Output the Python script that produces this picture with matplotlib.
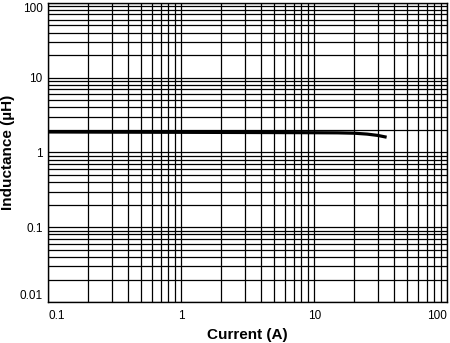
import numpy as np
import matplotlib
matplotlib.use("Agg")
import matplotlib.pyplot as plt
from matplotlib.ticker import FixedLocator, NullFormatter

## Data (current in A, inductance in uH)
current = [0.1, 0.3, 1, 3, 8, 15, 20, 25, 30, 35]
inductance = [1.88, 1.87, 1.86, 1.85, 1.84, 1.83, 1.81, 1.76, 1.69, 1.60]

x_ticks = [0.1, 1, 10, 100]
x_labels = ["0.1", "1", "10", "100"]
y_ticks = [0.01, 0.1, 1, 10, 100]
y_labels = ["0.01", "0.1", "1", "10", "100"]

plt.rcParams['font.family'] = ['Liberation Sans', 'DejaVu Sans']

fig = plt.figure(figsize=(4.5, 3.43), dpi=100)
ax = fig.add_axes([0.107, 0.1195, 0.887, 0.872])
ax.set_xscale('log')
ax.set_yscale('log')
ax.set_xlim(0.1, 100)
ax.set_ylim(0.01, 100)

## grid: every decade and every minor step, all thin black
minor = [m * 10.0**e for e in range(-3, 3) for m in range(2, 10)]
ax.xaxis.set_minor_locator(FixedLocator(minor))
ax.yaxis.set_minor_locator(FixedLocator(minor))
ax.xaxis.set_minor_formatter(NullFormatter())
ax.yaxis.set_minor_formatter(NullFormatter())
ax.grid(True, which='both', color='black', linewidth=0.9)

ax.plot(current, inductance, color='black', linewidth=2.3, solid_capstyle='butt')

ax.set_xticks(x_ticks)
ax.set_xticklabels(x_labels)
ax.set_yticks(y_ticks)
ax.set_yticklabels(y_labels)
ax.tick_params(which='both', length=0, labelsize=8.5)
ax.tick_params(axis='x', pad=6)
ax.tick_params(axis='y', pad=4)

## end labels sit inside the frame, like the original
xl = ax.get_xticklabels()
xl[0].set_ha('left')
xl[-1].set_ha('right')
yl = ax.get_yticklabels()
yl[0].set_va('bottom')
yl[-1].set_va('top')

for s in ax.spines.values():
    s.set_color('black')
    s.set_linewidth(1.0)

ax.set_xlabel("Current (A)", fontsize=11, fontweight='bold', labelpad=4)
ax.set_ylabel("Inductance (µH)", fontsize=11, fontweight='bold', labelpad=3)

fig.savefig("out.png", dpi=100)
